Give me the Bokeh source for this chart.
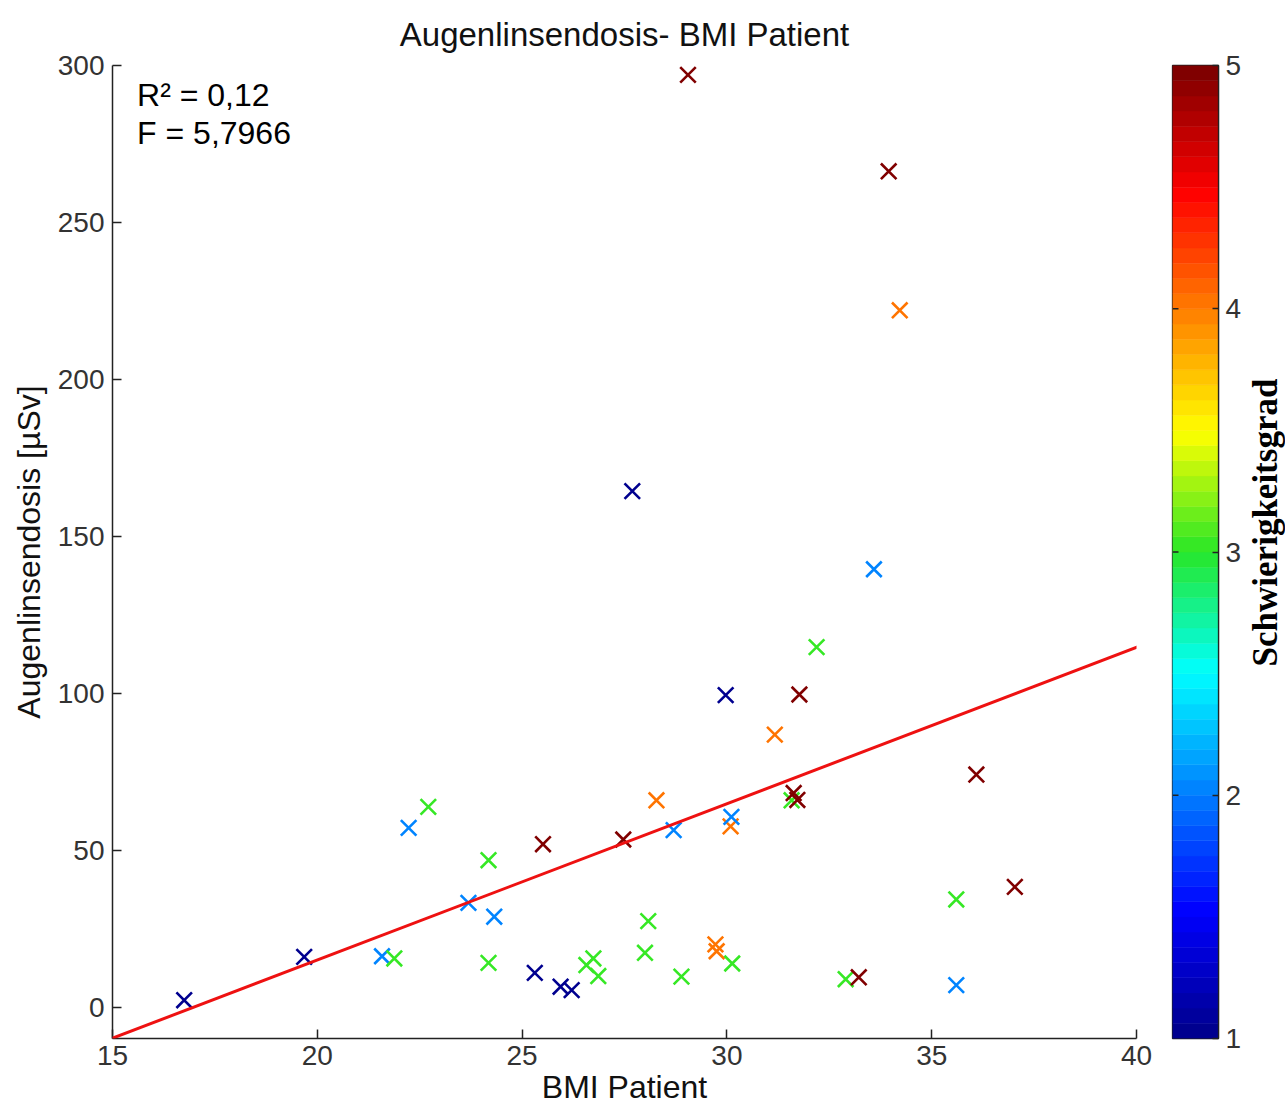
import numpy as np
from bokeh.plotting import figure
from bokeh.layouts import row
from bokeh.models import (ColumnDataSource, LinearColorMapper, FixedTicker,
                          Slope, Label, Range1d)
from bokeh.core.properties import value
from bokeh.transform import transform
from bokeh.embed import file_html
from bokeh.resources import INLINE

# ---- data ----
bmi = [16.75, 19.68, 21.58, 21.88, 22.23, 22.71, 23.69, 24.18, 24.32, 24.18,
       25.31, 25.51, 25.94, 26.21, 26.57, 26.74, 26.86, 27.47, 27.69, 28.00,
       28.08, 28.28, 28.70, 28.89, 29.05, 29.72, 29.75, 29.97, 30.09, 30.11,
       30.13, 31.17, 31.58, 31.63, 31.72, 31.77, 32.19, 32.90, 33.22, 33.59,
       33.95, 34.22, 35.60, 35.60, 36.09, 37.03]
dose = [2.2, 16.0, 16.2, 15.5, 57.1, 63.8, 33.2, 46.8, 28.8, 14.1,
        10.9, 51.9, 6.5, 5.4, 13.4, 15.5, 9.9, 53.4, 164.4, 17.3,
        27.4, 65.9, 56.4, 9.7, 297.0, 20.0, 17.8, 99.4, 57.6, 60.6,
        13.9, 86.8, 65.9, 68.2, 66.0, 99.6, 114.7, 8.9, 9.5, 139.5,
        266.3, 222.0, 34.3, 7.0, 74.1, 38.3]
grade = [1, 1, 2, 3, 2, 3, 2, 3, 2, 3,
         1, 5, 1, 1, 3, 3, 3, 5, 1, 3,
         3, 4, 2, 3, 5, 4, 4, 1, 4, 2,
         3, 4, 3, 5, 5, 5, 3, 3, 5, 2,
         5, 4, 3, 2, 5, 5]

fit_slope = 4.98
fit_intercept = -84.6
r2_text = "R² = 0,12"
f_text = "F = 5,7966"
cb_title = "Schwierigkeitsgrad"

x_ticks = [15, 20, 25, 30, 35, 40]
y_ticks = [0, 50, 100, 150, 200, 250, 300]
cb_ticks = [1, 2, 3, 4, 5]
cb_low, cb_high = 1, 5

# jet-like colormap (anchor colours of the reference colour bar)
anchors = [(0.0, (0, 0, 143)), (0.125, (0, 0, 255)), (0.25, (0, 128, 255)),
           (0.375, (0, 255, 255)), (0.5, (40, 230, 40)), (0.625, (255, 255, 0)),
           (0.75, (255, 128, 0)), (0.875, (255, 0, 0)), (1.0, (128, 0, 0))]


def make_palette(n):
    ts = [a[0] for a in anchors]
    cols = []
    for i in range(n):
        t = i / (n - 1)
        rgb = [int(round(np.interp(t, ts, [a[1][k] for a in anchors]))) for k in range(3)]
        cols.append("#%02x%02x%02x" % tuple(rgb))
    return cols


palette = make_palette(64)
mapper = LinearColorMapper(palette=palette, low=cb_low, high=cb_high)

src = ColumnDataSource(dict(bmi=bmi, dose=dose, grade=grade))

FONT = "Liberation Sans"
TOTAL_H = 1109
TOP, BOTTOM = 65, 71
FRAME_H = TOTAL_H - TOP - BOTTOM

p = figure(frame_width=1024, frame_height=FRAME_H,
           x_range=Range1d(15, 40), y_range=Range1d(-10, 300),
           output_backend="svg", toolbar_location=None,
           title="Augenlinsendosis- BMI Patient",
           min_border_left=112, min_border_right=20,
           min_border_top=TOP, min_border_bottom=BOTTOM)
p.outline_line_color = None
p.grid.visible = False

p.title.align = "center"
p.title.text_font = FONT
p.title.text_font_size = "33px"
p.title.text_font_style = "normal"
p.title.text_color = "#111111"
p.title.standoff = 26

for ax in (p.xaxis[0], p.yaxis[0]):
    ax.major_tick_in = 9
    ax.major_tick_out = 0
    ax.minor_tick_line_color = None
    ax.axis_line_color = "#222222"
    ax.axis_line_width = 1.5
    ax.major_tick_line_color = "#222222"
    ax.major_tick_line_width = 1.5
    ax.major_label_text_font = FONT
    ax.major_label_text_font_size = "28px"
    ax.major_label_text_color = "#333333"
    ax.axis_label_text_font = FONT
    ax.axis_label_text_font_size = "32px"
    ax.axis_label_text_font_style = "normal"
    ax.axis_label_text_color = "#111111"

p.xaxis.ticker = FixedTicker(ticks=x_ticks)
p.yaxis.ticker = FixedTicker(ticks=y_ticks)
p.xaxis.axis_label = "BMI Patient"
p.yaxis.axis_label = "Augenlinsendosis [µSv]"
p.xaxis.major_label_standoff = 7
p.yaxis.major_label_standoff = 8
p.xaxis.axis_label_standoff = 1
p.yaxis.axis_label_standoff = 8

p.scatter("bmi", "dose", source=src, marker="x", size=22, line_width=2.6,
          line_color=transform("grade", mapper))

p.add_layout(Slope(gradient=fit_slope, y_intercept=fit_intercept,
                   line_color="#ee1111", line_width=3))

p.add_layout(Label(x=15.6, y=290.5, text=r2_text, text_font=FONT,
                   text_font_size="32px", text_baseline="middle", text_color="#000000"))
p.add_layout(Label(x=15.6, y=278.5, text=f_text, text_font=FONT,
                   text_font_size="32px", text_baseline="middle", text_color="#000000"))

# ---- colour bar: a narrow figure whose frame is the bar itself ----
BAR_W = 46
cbf = figure(frame_width=BAR_W, frame_height=FRAME_H,
             x_range=Range1d(0, BAR_W), y_range=Range1d(cb_low, cb_high),
             output_backend="svg", toolbar_location=None,
             x_axis_location=None, y_axis_location="right",
             min_border_left=16, min_border_right=26,
             min_border_top=TOP, min_border_bottom=BOTTOM)
cbf.grid.visible = False
cbf.outline_line_color = "#222222"
cbf.outline_line_width = 1.3

levels = np.linspace(cb_low, cb_high, len(palette) + 1)
cbf.quad(left=0, right=BAR_W, bottom=levels[:-1], top=levels[1:],
         fill_color=palette, line_color=palette, line_width=0.5)
inner = [t for t in cb_ticks if cb_low < t < cb_high]
cbf.segment(x0=0, x1=6, y0=inner, y1=inner, line_color="#222222", line_width=1.3)

yax = cbf.yaxis[0]
yax.ticker = FixedTicker(ticks=cb_ticks)
yax.major_tick_in = 6
yax.major_tick_out = 0
yax.minor_tick_line_color = None
yax.axis_line_color = "#222222"
yax.axis_line_width = 1.3
yax.major_tick_line_color = "#222222"
yax.major_tick_line_width = 1.3
yax.major_label_standoff = 7
yax.major_label_text_font = FONT
yax.major_label_text_font_size = "28px"
yax.major_label_text_color = "#333333"

# ---- colour-bar title in its own thin figure (reads bottom to top) ----
LAB_W = 41
labf = figure(frame_width=LAB_W, frame_height=FRAME_H,
              x_range=Range1d(0, LAB_W), y_range=Range1d(cb_low, cb_high),
              output_backend="svg", toolbar_location=None,
              x_axis_location=None, y_axis_location=None,
              min_border_left=0, min_border_right=0,
              min_border_top=TOP, min_border_bottom=BOTTOM)
labf.grid.visible = False
labf.outline_line_color = None
px_per_unit = FRAME_H / (cb_high - cb_low)
labf.text(x=[21], y=[cb_high - (522 - TOP) / px_per_unit], text=[cb_title],
          angle=np.pi / 2, text_font=value("Liberation Serif"), text_font_style="bold",
          text_font_size="35px", text_color="#000000",
          text_baseline="middle", text_align="center")

layout = row(p, cbf, labf)
open("out.html", "w").write(file_html(layout, INLINE))
